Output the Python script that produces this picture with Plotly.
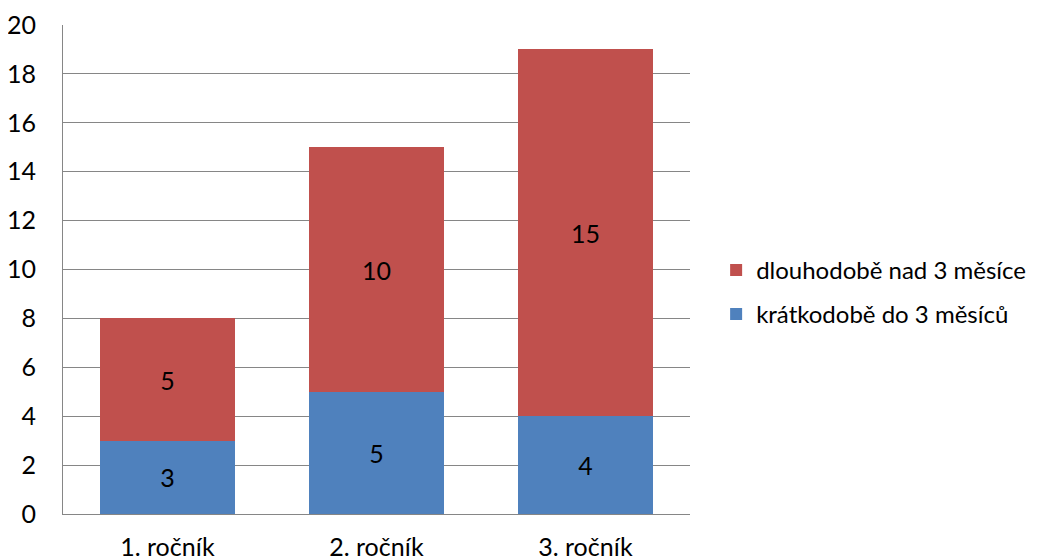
import plotly.graph_objects as go

categories = ["1. ročník", "2. ročník", "3. ročník"]
kratkodobe = [3, 5, 4]
dlouhodobe = [5, 10, 15]
series_names = ["krátkodobě do 3 měsíců", "dlouhodobě nad 3 měsíce"]
y_ticks = [0, 2, 4, 6, 8, 10, 12, 14, 16, 18, 20]

FONT = "Lato"
FS = 25
fig = go.Figure()
fig.add_trace(go.Bar(
    x=categories, y=kratkodobe, name=series_names[0],
    marker=dict(color="#4F81BD", line=dict(width=0)),
    text=kratkodobe, textposition="inside", insidetextanchor="middle",
    textfont=dict(color="black", size=FS, family=FONT), legendgroup="a", legendrank=2,
))
fig.add_trace(go.Bar(
    x=categories, y=dlouhodobe, name=series_names[1],
    marker=dict(color="#C0504D", line=dict(width=0)),
    text=dlouhodobe, textposition="inside", insidetextanchor="middle",
    textfont=dict(color="black", size=FS, family=FONT), legendgroup="b", legendrank=1,
))
fig.update_layout(
    width=1030, height=552,
    barmode="stack", bargap=0.35,
    plot_bgcolor="white", paper_bgcolor="white",
    margin=dict(l=55, r=348, t=17, b=46),
    font=dict(family=FONT, size=FS, color="black"),
    showlegend=True,
    legend=dict(
        xref="container", yref="container",
        x=0.6875, y=0.485, xanchor="left", yanchor="middle",
        traceorder="grouped", tracegroupgap=10,
        font=dict(size=24, family=FONT), itemwidth=30,
        bgcolor="rgba(0,0,0,0)",
    ),
    uniformtext=dict(mode="show", minsize=FS),
)
fig.update_yaxes(
    range=[0, 20], tickvals=y_ticks, showgrid=True, gridcolor="#868686", gridwidth=1,
    showline=True, linecolor="#868686", linewidth=1, zeroline=False,
    ticks="outside", ticklen=21, tickcolor="rgba(0,0,0,0)", tickfont=dict(size=FS),
    fixedrange=True, automargin=False,
)
fig.update_xaxes(
    showline=True, linecolor="#868686", linewidth=1, ticks="outside", ticklen=11,
    tickcolor="rgba(0,0,0,0)",
    tickfont=dict(size=FS), fixedrange=True, automargin=False,
)
fig.write_html("out.html")
